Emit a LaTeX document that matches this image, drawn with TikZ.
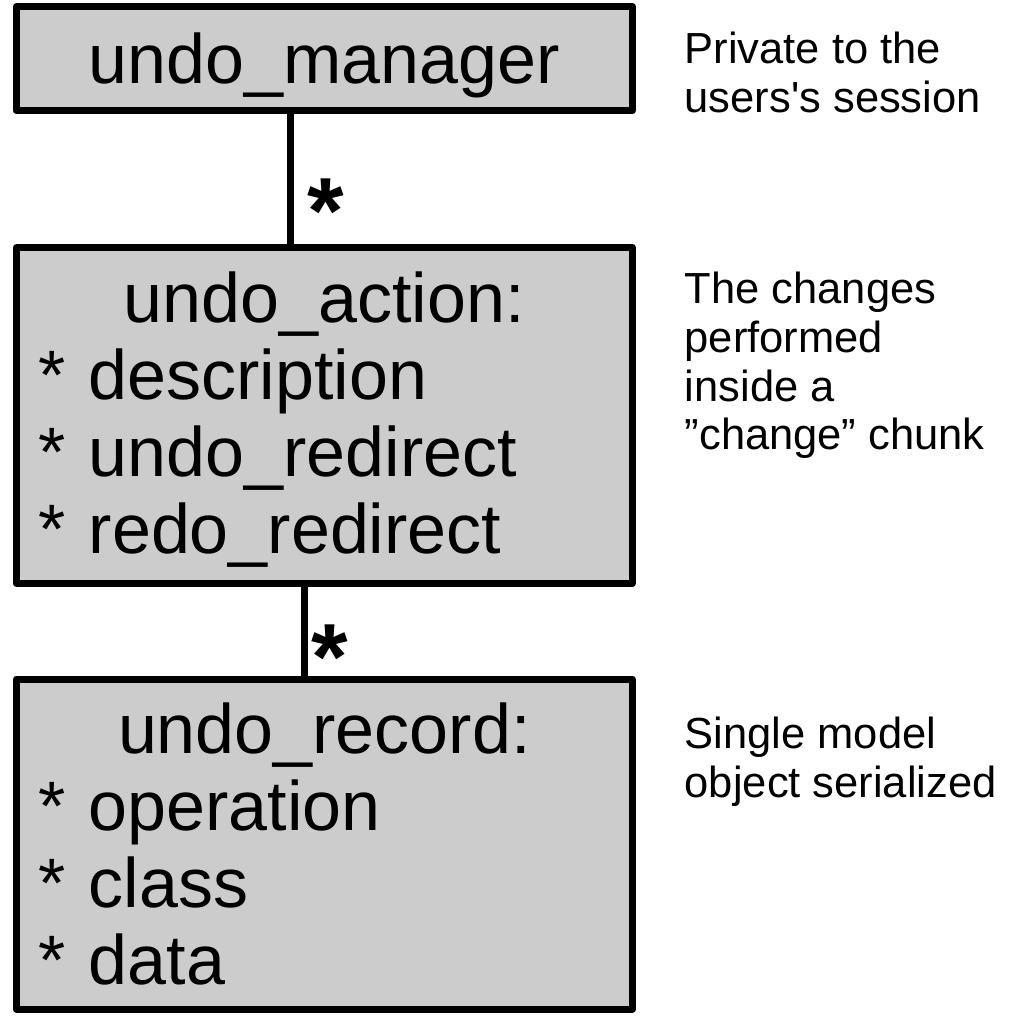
\documentclass[tikz,border=0pt]{standalone}
\usepackage{fontspec}
\setmainfont{Liberation Sans}
\usetikzlibrary{positioning}

\definecolor{classfill}{RGB}{204,204,204}
\newcommand{\classfont}{\fontsize{70}{77}\selectfont}
\newcommand{\notefont}{\fontsize{43.5}{48.7}\selectfont}
\newcommand{\fieldwidth}{572pt}
\newcommand{\classhead}[1]{\makebox[\fieldwidth][c]{#1}}
\newcommand{\field}[1]{* #1}
\newcommand{\many}{\raisebox{-33pt}{*}}

\begin{document}
\begin{tikzpicture}
[x=1pt,y=-1pt,
 every node/.style={inner sep=0pt},
 classbox/.style={rectangle,draw,line width=7pt,line join=round,fill=classfill,font=\classfont,minimum width=616pt},
 fields/.style={text width=\fieldwidth,align=left},
 note/.style={anchor=north west,align=left,font=\notefont},
 link/.style={line width=7pt},
 mult/.style={font=\fontsize{94}{94}\selectfont\bfseries,text height=34.7pt,text depth=0pt,anchor=west}]
\useasboundingbox (0,0) rectangle (1016,1015);
%classes
\node[classbox,minimum height=104pt,text height=64pt,text depth=15pt] (Manager) at (324.3,58.7) {undo\_manager};
\node[classbox,fields,minimum height=336pt,text height=58pt] (Action) at (324.3,415.5) {\classhead{undo\_action:}\\\field{description}\\\field{undo\_redirect}\\\field{redo\_redirect}};
\node[classbox,fields,minimum height=330pt] (Record) at (324.3,844) {\classhead{undo\_record:}\\\field{operation}\\\field{class}\\\field{data}};
%notes
\node[note] (ManagerNote) at (684.6,32) {Private to the\\users\textquotesingle s session};
\node[note] (ActionNote) at (684.6,272) {The changes\\performed\\inside a\\”change” chunk};
\node[note] (RecordNote) at (684.6,717) {Single model\\object serialized};
%associations
\draw[link] ([xshift=-34.3pt]Manager.south) -- ([xshift=-34.3pt]Action.north) node[mult,pos=0.609,xshift=14.4pt] {\many};
\draw[link] ([xshift=-20.3pt]Action.south) -- ([xshift=-20.3pt]Record.north) node[mult,pos=0.589,xshift=4.4pt] {\many};
\end{tikzpicture}
\end{document}
